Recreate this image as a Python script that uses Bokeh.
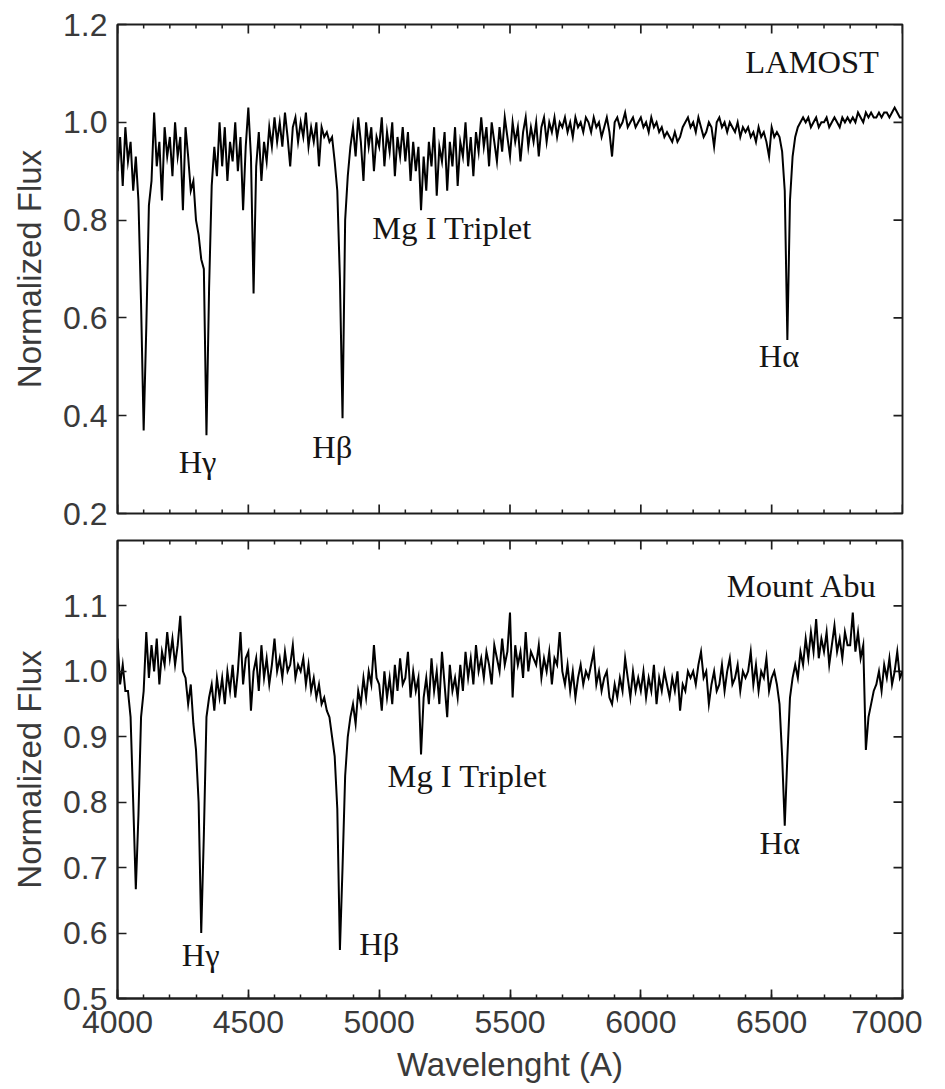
import numpy as np
from bokeh.plotting import figure
from bokeh.models import Range1d, LinearAxis, FixedTicker, Label, NumeralTickFormatter
from bokeh.layouts import column
from bokeh.embed import file_html
from bokeh.resources import INLINE

# ---------------- data ----------------
# spectral sampling grid (Angstrom)
wavelength = np.arange(4000, 7001, 10)

# LAMOST normalized flux, one row per 100 A
flux_lamost = [
    0.90, 0.97, 0.87, 0.99, 0.92, 0.96, 0.86, 0.93, 0.84, 0.63,   # 4000
    0.37, 0.58, 0.83, 0.88, 1.02, 0.91, 0.96, 0.84, 0.99, 0.93,   # 4100
    0.97, 0.89, 1.00, 0.93, 0.97, 0.82, 0.99, 0.93, 0.86, 0.88,   # 4200
    0.80, 0.77, 0.72, 0.70, 0.36, 0.66, 0.87, 0.95, 0.89, 1.00,   # 4300
    0.91, 0.99, 0.88, 0.96, 0.92, 1.00, 0.90, 0.97, 0.82, 0.95,   # 4400
    1.03, 0.93, 0.65, 0.91, 0.98, 0.88, 0.96, 0.92, 0.99, 0.95,   # 4500
    1.01, 0.96, 1.00, 0.95, 1.02, 0.97, 0.91, 0.99, 1.01, 0.96,   # 4600
    1.00, 0.97, 1.02, 0.95, 0.99, 0.96, 1.00, 0.91, 0.99, 0.97,   # 4700
    0.98, 0.96, 0.97, 0.92, 0.86, 0.68, 0.395, 0.80, 0.89, 0.95,  # 4800
    0.99, 0.93, 1.01, 0.96, 0.88, 1.00, 0.95, 0.99, 0.90, 0.97,   # 4900
    0.95, 1.01, 0.91, 0.98, 0.94, 1.00, 0.89, 0.97, 0.93, 0.99,   # 5000
    0.92, 0.98, 0.88, 0.96, 0.90, 0.95, 0.82, 0.93, 0.86, 0.96,   # 5100
    0.91, 0.99, 0.85, 0.95, 0.92, 0.98, 0.86, 0.96, 0.91, 0.99,   # 5200
    0.87, 0.96, 0.93, 1.00, 0.91, 0.97, 0.89, 0.98, 0.94, 1.01,   # 5300
    0.95, 0.99, 0.91, 1.00, 0.96, 0.92, 0.99, 0.94, 1.01, 0.97,   # 5400
    0.93, 1.00, 0.96, 0.99, 0.92, 0.98, 1.01, 0.95, 0.99, 0.96,   # 5500
    1.00, 0.93, 0.99, 1.01, 0.96, 1.00, 0.98, 1.01, 0.97, 1.00,   # 5600
    0.99, 1.01, 0.98, 1.00, 0.97, 1.01, 0.99, 1.00, 0.98, 1.01,   # 5700
    1.00, 0.98, 1.01, 0.99, 1.00, 0.97, 0.99, 1.01, 0.98, 0.93,   # 5800
    1.00, 1.01, 0.99, 1.00, 1.02, 0.99, 1.00, 1.01, 0.99, 1.00,   # 5900
    1.01, 0.99, 1.00, 0.98, 1.01, 0.99, 1.00, 0.98, 0.99, 0.97,   # 6000
    0.98, 0.97, 0.96, 0.98, 0.96, 0.97, 0.99, 1.00, 1.01, 0.99,   # 6100
    1.00, 0.98, 1.01, 0.99, 0.97, 0.98, 1.00, 0.99, 0.95, 1.00,   # 6200
    1.01, 0.99, 1.00, 0.98, 1.00, 0.99, 0.98, 1.00, 0.97, 0.99,   # 6300
    0.98, 0.99, 0.97, 0.98, 0.96, 0.99, 0.97, 0.98, 0.96, 0.93,   # 6400
    0.99, 0.97, 0.98, 0.97, 0.94, 0.86, 0.555, 0.84, 0.93, 0.97,  # 6500
    0.99, 1.00, 1.01, 1.00, 1.01, 0.99, 1.00, 1.01, 0.99, 1.00,   # 6600
    1.00, 1.01, 0.99, 1.00, 1.01, 1.00, 0.99, 1.01, 1.00, 1.01,   # 6700
    1.00, 1.01, 1.00, 1.02, 1.01, 1.00, 1.02, 1.01, 1.02, 1.01,   # 6800
    1.01, 1.02, 1.01, 1.02, 1.02, 1.01, 1.02, 1.03, 1.02, 1.01,   # 6900
    1.01,                                                         # 7000
]

# Mount Abu normalized flux, one row per 100 A
flux_abu = [
    1.05, 0.98, 1.01, 0.97, 0.97, 0.93, 0.80, 0.667, 0.78, 0.93,  # 4000
    0.97, 1.06, 0.99, 1.04, 1.00, 1.05, 0.98, 1.03, 1.01, 1.06,   # 4100
    1.02, 1.05, 1.01, 1.04, 1.085, 1.00, 0.99, 0.95, 0.98, 0.92,  # 4200
    0.88, 0.80, 0.60, 0.75, 0.93, 0.96, 0.98, 0.94, 0.99, 0.96,   # 4300
    0.99, 0.95, 1.00, 0.97, 1.01, 0.96, 1.00, 1.06, 0.98, 1.02,   # 4400
    1.03, 0.94, 1.00, 1.02, 0.97, 1.04, 0.99, 1.02, 0.98, 1.01,   # 4500
    1.05, 1.00, 1.02, 0.99, 1.03, 1.00, 1.01, 1.04, 0.99, 1.01,   # 4600
    1.00, 1.02, 0.98, 1.01, 0.97, 0.99, 0.96, 0.98, 0.95, 0.96,   # 4700
    0.94, 0.93, 0.90, 0.87, 0.79, 0.574, 0.70, 0.84, 0.90, 0.93,  # 4800
    0.95, 0.92, 0.97, 0.95, 0.99, 0.96, 1.00, 0.98, 1.04, 0.99,   # 4900
    0.98, 0.94, 1.00, 0.96, 0.99, 0.95, 1.01, 0.97, 1.02, 0.98,   # 5000
    0.99, 1.03, 0.96, 1.00, 0.97, 0.99, 0.873, 0.96, 0.99, 0.95,  # 5100
    1.02, 0.97, 1.00, 0.95, 1.03, 0.98, 0.93, 1.01, 0.97, 0.99,   # 5200
    0.96, 1.01, 0.97, 1.03, 0.99, 1.02, 0.98, 1.04, 1.00, 1.02,   # 5300
    0.99, 1.03, 1.01, 0.98, 1.04, 1.02, 1.00, 1.05, 1.01, 1.03,   # 5400
    1.09, 0.96, 1.04, 1.01, 1.03, 0.99, 1.06, 1.00, 1.03, 1.02,   # 5500
    1.01, 1.04, 0.99, 1.02, 1.00, 1.03, 0.98, 1.02, 1.01, 1.06,   # 5600
    1.00, 0.98, 1.01, 0.97, 1.00, 0.96, 0.99, 1.01, 0.98, 1.00,   # 5700
    0.99, 1.01, 1.03, 0.98, 1.00, 0.97, 0.99, 1.00, 0.96, 0.95,   # 5800
    0.98, 0.96, 0.99, 0.97, 1.02, 0.99, 0.96, 1.00, 0.97, 0.99,   # 5900
    0.97, 1.00, 0.96, 0.99, 0.97, 1.01, 0.95, 0.99, 0.97, 1.00,   # 6000
    0.98, 0.96, 0.99, 0.97, 1.00, 0.94, 0.98, 0.97, 1.00, 0.99,   # 6100
    1.00, 0.98, 1.01, 1.03, 0.99, 1.00, 0.95, 0.98, 1.00, 0.97,   # 6200
    0.98, 1.01, 0.97, 1.00, 1.02, 0.98, 0.99, 1.01, 0.97, 1.00,   # 6300
    0.99, 1.00, 1.03, 0.98, 1.01, 0.97, 1.00, 0.99, 1.02, 0.97,   # 6400
    0.99, 1.00, 0.98, 0.95, 0.87, 0.764, 0.87, 0.96, 0.99, 1.01,  # 6500
    0.99, 1.03, 1.01, 1.05, 1.02, 1.06, 1.03, 1.08, 1.02, 1.05,   # 6600
    1.03, 1.06, 1.01, 1.04, 1.07, 1.03, 1.05, 1.02, 1.06, 1.04,   # 6700
    1.04, 1.09, 1.03, 1.06, 1.02, 1.04, 0.88, 0.93, 0.95, 0.97,   # 6800
    0.98, 1.00, 0.97, 1.01, 0.99, 1.02, 0.98, 1.00, 1.03, 0.99,   # 6900
    1.00,                                                         # 7000
]

x_major_ticks = [4000, 4500, 5000, 5500, 6000, 6500, 7000]
x_minor_ticks = list(range(4000, 7001, 100))
y_ticks_lamost = [0.2, 0.4, 0.6, 0.8, 1.0, 1.2]
y_ticks_abu = [0.5, 0.6, 0.7, 0.8, 0.9, 1.0, 1.1]

# annotations: (text, wavelength, flux at text baseline, alignment)
labels_lamost = [
    ("LAMOST", 6910, 1.1225, "right"),
    ("Mg I Triplet", 4974, 0.7845, "left"),
    ("H\u03b3", 4306, 0.3045, "center"),
    ("H\u03b2", 4821, 0.3355, "center"),
    ("H\u03b1", 6528, 0.5225, "center"),
]
labels_abu = [
    ("Mount Abu", 6905, 1.130, "right"),
    ("Mg I Triplet", 5032, 0.840, "left"),
    ("H\u03b3", 4318, 0.567, "center"),
    ("H\u03b2", 5000, 0.584, "center"),
    ("H\u03b1", 6531, 0.737, "center"),
]

assert len(flux_lamost) == len(wavelength) == len(flux_abu)

# ---------------- styling ----------------
SANS = "Liberation Sans"
SERIF = "Liberation Serif"
AXIS_COLOR = "#1e1e1e"
TEXT_COLOR = "#3a3a3a"
FRAME_W = 785
MAJOR_LEN = 9
MINOR_LEN = 4
EDGE_W = 1.9


def style_axis(ax, minor):
    ax.axis_line_color = AXIS_COLOR
    ax.axis_line_width = EDGE_W
    ax.major_tick_line_color = AXIS_COLOR
    ax.major_tick_line_width = 1.7
    ax.major_tick_in = MAJOR_LEN
    ax.major_tick_out = 0
    if minor:
        ax.minor_tick_line_color = AXIS_COLOR
        ax.minor_tick_line_width = 1.5
        ax.minor_tick_in = MINOR_LEN
        ax.minor_tick_out = 0
    else:
        ax.minor_tick_line_color = None
    ax.major_label_text_font = SANS
    ax.major_label_text_font_size = "32px"
    ax.major_label_text_color = TEXT_COLOR


def make_panel(height, frame_h, y_lo, y_hi, y_ticks, flux, labels, bottom_axis,
               border_top, border_bottom):
    p = figure(width=117 + FRAME_W + 20, height=height,
               x_range=Range1d(4000, 7000), y_range=Range1d(y_lo, y_hi),
               output_backend="svg", toolbar_location=None,
               x_axis_location=None, y_axis_location=None,
               min_border_left=117, min_border_right=20,
               min_border_top=border_top, min_border_bottom=border_bottom)
    p.grid.visible = False
    p.outline_line_color = AXIS_COLOR
    p.outline_line_width = EDGE_W
    p.background_fill_color = "white"
    p.border_fill_color = "white"

    xt = FixedTicker(ticks=x_major_ticks, minor_ticks=x_minor_ticks)
    yt = FixedTicker(ticks=y_ticks)

    # left axis with labels
    yl = LinearAxis(ticker=yt, formatter=NumeralTickFormatter(format="0.0"))
    style_axis(yl, False)
    yl.major_label_standoff = 10
    yl.axis_label = "Normalized Flux"
    yl.axis_label_text_font = SANS
    yl.axis_label_text_font_size = "33px"
    yl.axis_label_text_font_style = "normal"
    yl.axis_label_text_color = TEXT_COLOR
    yl.axis_label_standoff = 12
    p.add_layout(yl, "left")

    # pixel -> data conversions for the mirrored inward ticks
    dx = 3000 / FRAME_W
    dy = (y_hi - y_lo) / frame_h
    minor_only = [t for t in x_minor_ticks if t not in x_major_ticks]

    # top edge ticks
    p.segment(x0=x_major_ticks, x1=x_major_ticks,
              y0=[y_hi] * len(x_major_ticks), y1=[y_hi - MAJOR_LEN * dy] * len(x_major_ticks),
              line_color=AXIS_COLOR, line_width=1.7)
    p.segment(x0=minor_only, x1=minor_only,
              y0=[y_hi] * len(minor_only), y1=[y_hi - MINOR_LEN * dy] * len(minor_only),
              line_color=AXIS_COLOR, line_width=1.5)
    # right edge ticks
    p.segment(x0=[7000] * len(y_ticks), x1=[7000 - MAJOR_LEN * dx] * len(y_ticks),
              y0=y_ticks, y1=y_ticks, line_color=AXIS_COLOR, line_width=1.7)

    if bottom_axis:
        xb = LinearAxis(ticker=xt, formatter=NumeralTickFormatter(format="0"))
        style_axis(xb, True)
        xb.major_label_standoff = 12
        xb.axis_label = "Wavelenght (A)"
        xb.axis_label_text_font = SANS
        xb.axis_label_text_font_size = "33px"
        xb.axis_label_text_font_style = "normal"
        xb.axis_label_text_color = TEXT_COLOR
        xb.axis_label_standoff = 10
        p.add_layout(xb, "below")
    else:
        # bottom edge ticks without labels
        p.segment(x0=x_major_ticks, x1=x_major_ticks,
                  y0=[y_lo] * len(x_major_ticks), y1=[y_lo + MAJOR_LEN * dy] * len(x_major_ticks),
                  line_color=AXIS_COLOR, line_width=1.7)
        p.segment(x0=minor_only, x1=minor_only,
                  y0=[y_lo] * len(minor_only), y1=[y_lo + MINOR_LEN * dy] * len(minor_only),
                  line_color=AXIS_COLOR, line_width=1.5)

    p.line(wavelength, flux, line_color="black", line_width=2.0, line_join="miter")

    for text, xw, yf, align in labels:
        p.add_layout(Label(x=xw, y=yf, text=text, text_font=SERIF,
                           text_font_size="32.5px", text_color="#151515",
                           text_align=align, text_baseline="alphabetic"))
    return p


# top panel: frame y 24..513 ; bottom panel: frame y 540..998
top = make_panel(531, 489, 0.2, 1.2, y_ticks_lamost, flux_lamost, labels_lamost,
                 False, 24, 18)
bottom = make_panel(558, 458, 0.5, 1.2, y_ticks_abu, flux_abu, labels_abu,
                    True, 9, 91)

layout = column(top, bottom, spacing=0)
open("out.html", "w").write(file_html(layout, INLINE))
